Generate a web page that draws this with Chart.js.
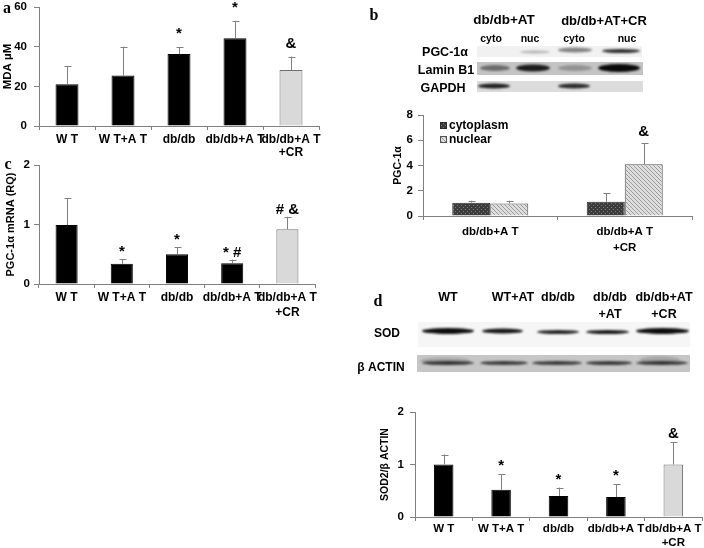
<!DOCTYPE html>
<html>
<head>
<meta charset="utf-8">
<script src="https://cdn.jsdelivr.net/npm/chart.js@4.4.1/dist/chart.umd.min.js"></script>
<style>
  body { margin: 0; width: 704px; height: 548px; overflow: hidden; position: relative; background: #fff;
         font-family: "Liberation Sans", Arial, sans-serif; font-weight: bold; color: #000; }
  canvas { position: absolute; }
  .t { position: absolute; white-space: nowrap; line-height: 1; transform: translate(-50%, -50%); }
  .letter { font-family: "Liberation Serif", "Times New Roman", serif; font-size: 16px; }
</style>
</head>
<body>
<canvas id="blots" width="704" height="548" style="left:0px;top:0px"></canvas>
<canvas id="chartA" width="340" height="162" style="left:0px;top:0px"></canvas>
<canvas id="chartC" width="340" height="165" style="left:0px;top:160px"></canvas>
<canvas id="chartB" width="339" height="150" style="left:365px;top:105px"></canvas>
<canvas id="chartD" width="339" height="148" style="left:365px;top:400px"></canvas>

<!-- panel letters -->
<div class="t letter" style="left:7px;top:8px">a</div>
<div class="t letter" style="left:374px;top:15px">b</div>
<div class="t letter" style="left:8px;top:164px">c</div>
<div class="t letter" style="left:378px;top:301px">d</div>

<!-- panel b blot labels -->
<div class="t" style="left:504px;top:20px;font-size:13.5px">db/db+AT</div>
<div class="t" style="left:604px;top:20px;font-size:13px">db/db+AT+CR</div>
<div class="t" style="left:491px;top:38px;font-size:10.5px">cyto</div>
<div class="t" style="left:530px;top:38px;font-size:10.5px">nuc</div>
<div class="t" style="left:574px;top:38px;font-size:10.5px">cyto</div>
<div class="t" style="left:627px;top:38px;font-size:10.5px">nuc</div>
<div class="t" style="left:445px;top:52px;font-size:12.5px">PGC-1α</div>
<div class="t" style="left:446px;top:70px;font-size:12.5px">Lamin B1</div>
<div class="t" style="left:443px;top:88px;font-size:12.5px">GAPDH</div>

<!-- panel d blot labels -->
<div class="t" style="left:448px;top:297px;font-size:12.5px">WT</div>
<div class="t" style="left:513px;top:297px;font-size:12.5px">WT+AT</div>
<div class="t" style="left:558px;top:297px;font-size:12.5px">db/db</div>
<div class="t" style="left:610px;top:297px;font-size:12.5px">db/db</div>
<div class="t" style="left:610px;top:314px;font-size:12.5px">+AT</div>
<div class="t" style="left:664px;top:297px;font-size:12.5px">db/db+AT</div>
<div class="t" style="left:664px;top:314px;font-size:12.5px">+CR</div>
<div class="t" style="left:387px;top:333px;font-size:12px">SOD</div>
<div class="t" style="left:381px;top:367px;font-size:12px">β ACTIN</div>

<script>
// ---- data ----
const groupLabels = ['W T', 'W T+A T', 'db/db', 'db/db+A T', ['db/db+A T', '+CR']];

// a: MDA (µM)
const mdaValues = [21, 25.4, 36.3, 44.2, 28.2];
const mdaErrors = [9.3, 14.6, 3.3, 8.8, 6.8];
const mdaMarks = ['', '', '*', '*', '&'];

// c: PGC-1α mRNA (RQ)
const mrnaValues = [0.99, 0.34, 0.50, 0.35, 0.92];
const mrnaErrors = [0.45, 0.08, 0.12, 0.06, 0.21];
const mrnaMarks = ['', '*', '*', '* #', '# &'];

// b: PGC-1α protein, cytoplasm vs nuclear
const fractionLabels = ['db/db+A T', ['db/db+A T', '+CR']];
const cytoValues = [1.05, 1.13];
const cytoErrors = [0.16, 0.66];
const nucValues = [1.0, 4.1];
const nucErrors = [0.21, 1.65];
const nucMarks = ['', '&'];

// d: SOD2 / β ACTIN
const sodValues = [1.0, 0.52, 0.40, 0.38, 1.0];
const sodErrors = [0.19, 0.29, 0.16, 0.24, 0.42];
const sodMarks = ['', '*', '*', '*', '&'];

const FONT = '"Liberation Sans", Arial, sans-serif';
const AXIS = '#808080';

// ---- plugins ----
const errorBars = {
  id: 'errorBars',
  afterDatasetsDraw(chart, args, opts) {
    const ctx = chart.ctx;
    const y = chart.scales.y;
    chart.data.datasets.forEach((ds, di) => {
      const meta = chart.getDatasetMeta(di);
      meta.data.forEach((bar, i) => {
        const top = y.getPixelForValue(ds.data[i] + ds.errors[i]);
        const x = Math.round(bar.x) + 0.5;
        ctx.save();
        ctx.strokeStyle = AXIS;
        ctx.lineWidth = 1;
        ctx.beginPath();
        ctx.moveTo(x, bar.y);
        ctx.lineTo(x, top);
        ctx.moveTo(x - 3, Math.round(top) + 0.5);
        ctx.lineTo(x + 4, Math.round(top) + 0.5);
        ctx.stroke();
        const mark = ds.marks && ds.marks[i];
        if (mark) {
          ctx.fillStyle = '#000';
          ctx.font = 'bold 15px ' + FONT;
          ctx.textAlign = 'center';
          ctx.textBaseline = 'alphabetic';
          ctx.fillText(mark, bar.x, top - (opts.gap || 4));
        }
        ctx.restore();
      });
    });
  }
};

const insideLegend = {
  id: 'insideLegend',
  afterDraw(chart, args, opts) {
    if (!opts.show) return;
    const ctx = chart.ctx;
    const { left, top } = chart.chartArea;
    chart.data.datasets.forEach((ds, i) => {
      const x = left + opts.x;
      const yy = top + opts.y + i * opts.spacing;
      ctx.save();
      ctx.fillStyle = ds.backgroundColor;
      ctx.fillRect(x, yy - 4, 7, 7);
      ctx.strokeStyle = ds.borderColor;
      ctx.lineWidth = 1;
      ctx.strokeRect(x + 0.5, yy - 3.5, 6, 6);
      ctx.fillStyle = '#000';
      ctx.font = 'bold 12px ' + FONT;
      ctx.textBaseline = 'middle';
      ctx.fillText(ds.label, x + 9, yy);
      ctx.restore();
    });
  }
};

Chart.register(errorBars, insideLegend);

// ---- helpers ----
function makePattern(kind) {
  const c = document.createElement('canvas');
  c.width = 4; c.height = 4;
  const g = c.getContext('2d');
  if (kind === 'dots') {
    g.fillStyle = '#3c3c3c';
    g.fillRect(0, 0, 4, 4);
    g.fillStyle = '#7a7a7a';
    g.fillRect(0, 0, 1, 1);
    g.fillRect(2, 2, 1, 1);
  } else {
    g.fillStyle = '#dedede';
    g.fillRect(0, 0, 4, 4);
    g.fillStyle = '#9a9a9a';
    for (let i = 0; i < 4; i++) g.fillRect(i, i, 1, 1);
  }
  return g.createPattern(c, 'repeat');
}

function barChart(id, cfg) {
  const last = cfg.labels.length - 1;
  const datasets = cfg.datasets || [{
    data: cfg.values,
    errors: cfg.errors,
    marks: cfg.marks,
    backgroundColor: ctx => ctx.dataIndex === last ? '#d9d9d9' : '#000',
    borderColor: ctx => ctx.dataIndex === last ? '#707070' : '#000',
    borderWidth: 1,
    borderSkipped: 'bottom',
    barPercentage: cfg.barPct,
    categoryPercentage: 1
  }];
  return new Chart(document.getElementById(id), {
    type: 'bar',
    data: { labels: cfg.labels, datasets },
    options: {
      responsive: false,
      animation: false,
      layout: { padding: cfg.padding },
      plugins: {
        legend: { display: false },
        tooltip: { enabled: false },
        errorBars: { gap: cfg.gap },
        insideLegend: cfg.legend || { show: false }
      },
      scales: {
        x: {
          offset: true,
          grid: { display: true, drawOnChartArea: false, drawTicks: true, tickLength: 4, color: AXIS, offset: true },
          border: { color: AXIS, width: 1 },
          ticks: {
            color: '#000', autoSkip: false, maxRotation: 0, minRotation: 0, padding: cfg.xPad,
            font: { family: FONT, weight: 'bold', size: cfg.xFont, lineHeight: cfg.xLine }
          },
          afterFit: s => { s.height = cfg.xHeight; }
        },
        y: {
          min: 0, max: cfg.max,
          grid: { display: true, drawOnChartArea: false, drawTicks: true, tickLength: 5, color: AXIS },
          border: { color: AXIS, width: 1 },
          ticks: {
            color: '#000', stepSize: cfg.step, padding: cfg.yPad,
            font: { family: FONT, weight: 'bold', size: 11.5 }
          },
          title: {
            display: true, text: cfg.yTitle, color: '#000', padding: { top: cfg.titlePad, bottom: 0 },
            font: { family: FONT, weight: 'bold', size: cfg.titleSize, lineHeight: 1.2 }
          },
          afterFit: s => {
            s.width = cfg.yWidth;
            // keep the plot top where layout.padding puts it
            s.paddingTop = 0;
            s.paddingBottom = 0;
          }
        }
      }
    }
  });
}

// ---- blots (image panels) ----
function drawBlots() {
  const ctx = document.getElementById('blots').getContext('2d');
  function strip(x0, x1, y0, y1, color) {
    ctx.save();
    ctx.filter = 'blur(0.6px)';
    ctx.fillStyle = color;
    ctx.fillRect(x0, y0, x1 - x0, y1 - y0);
    ctx.restore();
  }
  function band(x0, x1, y, h, alpha) {
    ctx.save();
    ctx.filter = 'blur(1.2px)';
    ctx.fillStyle = 'rgba(0,0,0,' + alpha + ')';
    ctx.beginPath();
    ctx.ellipse((x0 + x1) / 2, y, (x1 - x0) / 2, h / 2, 0, 0, Math.PI * 2);
    ctx.fill();
    ctx.restore();
  }
  // panel b
  strip(477, 642, 46, 57, '#f1f1f1');
  band(520, 550, 52, 3, 0.25);
  band(558, 592, 50, 5, 0.45);
  band(602, 640, 51, 4, 0.8);
  strip(477, 643, 62, 75, '#c4c4c4');
  band(480, 510, 68, 6, 0.45);
  band(516, 550, 68, 7, 0.85);
  band(558, 592, 68, 6, 0.25);
  band(598, 640, 68, 8, 0.95);
  strip(477, 643, 81, 92, '#dcdcdc');
  band(478, 510, 86, 5, 0.85);
  band(558, 590, 86, 5, 0.8);
  // panel d
  strip(418, 690, 322, 347, '#f6f6f6');
  band(422, 474, 331, 6, 0.95);
  band(482, 523, 331, 5, 0.9);
  band(537, 579, 332, 4, 0.85);
  band(586, 629, 332, 4, 0.9);
  band(636, 689, 331, 6, 0.95);
  strip(417, 690, 355, 372, '#c6c6c6');
  band(420, 470, 361, 7, 0.15);
  band(640, 680, 360, 8, 0.15);
  [[422, 474], [480, 528], [532, 582], [586, 632], [636, 688]].forEach(([a, b]) => band(a, b, 363, 4, 0.7));
}
drawBlots();

// ---- charts ----
barChart('chartA', {
  labels: groupLabels, values: mdaValues, errors: mdaErrors, marks: mdaMarks,
  max: 60, step: 20, yTitle: 'MDA µM', titleSize: 11.5, titlePad: 1,
  padding: { top: 7, right: 21, left: 0, bottom: 0 }, yWidth: 39, xHeight: 36,
  barPct: 0.41, xPad: 3, xFont: 12, xLine: 1.12, yPad: 7, gap: 9
});

barChart('chartC', {
  labels: groupLabels, values: mrnaValues, errors: mrnaErrors, marks: mrnaMarks,
  max: 2, step: 1, yTitle: 'PGC-1α mRNA (RQ)', titleSize: 11, titlePad: 4,
  padding: { top: 5, right: 25, left: 0, bottom: 0 }, yWidth: 39, xHeight: 41,
  barPct: 0.4, xPad: 2, xFont: 12, xLine: 1.25, yPad: 4, gap: 3
});

const cytoPattern = makePattern('dots');
const nucPattern = makePattern('hatch');
barChart('chartB', {
  labels: fractionLabels,
  datasets: [
    { label: 'cytoplasm', data: cytoValues, errors: cytoErrors, backgroundColor: cytoPattern,
      borderColor: '#2a2a2a', borderWidth: 1, barPercentage: 1, categoryPercentage: 0.565 },
    { label: 'nuclear', data: nucValues, errors: nucErrors, marks: nucMarks, backgroundColor: nucPattern,
      borderColor: '#555', borderWidth: 1, barPercentage: 1, categoryPercentage: 0.565 }
  ],
  max: 8, step: 2, yTitle: 'PGC-1α', titleSize: 10.5, titlePad: 27,
  padding: { top: 10, right: 12, left: 0, bottom: 0 }, yWidth: 58, xHeight: 39,
  xPad: 3, xFont: 11.5, xLine: 1.45, yPad: 5, gap: 7,
  legend: { show: true, x: 17, y: 11, spacing: 14 }
});

barChart('chartD', {
  labels: groupLabels, values: sodValues, errors: sodErrors, marks: sodMarks,
  max: 2, step: 1, yTitle: 'SOD2/β ACTIN', titleSize: 10.5, titlePad: 14,
  padding: { top: 12, right: 2, left: 0, bottom: 0 }, yWidth: 50, xHeight: 31,
  barPct: 0.34, xPad: 1, xFont: 11.5, xLine: 1.2, yPad: 6, gap: 4
});
</script>
</body>
</html>
